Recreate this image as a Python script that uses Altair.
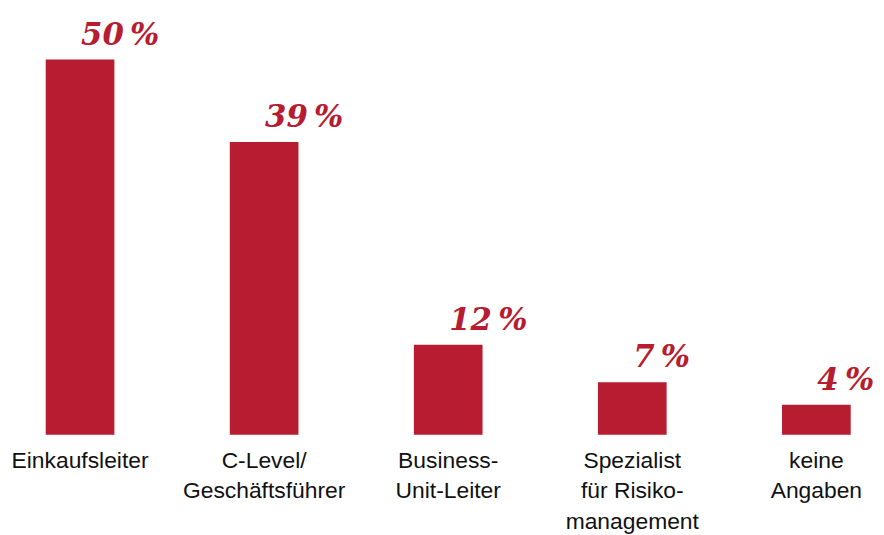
import altair as alt
import pandas as pd

categories = [
    "Einkaufsleiter",
    "C-Level/\nGeschäftsführer",
    "Business-\nUnit-Leiter",
    "Spezialist\nfür Risiko-\nmanagement",
    "keine\nAngaben",
]
values = [50, 39, 12, 7, 4]
value_labels = [f"{v}\u2009%" for v in values]

RED = "#B71C31"

df = pd.DataFrame({"cat": categories, "val": values, "lab": value_labels})

x = alt.X(
    "cat:N",
    sort=None,
    title=None,
    scale=alt.Scale(paddingInner=0.627, paddingOuter=0.155, align=0.661),
    axis=alt.Axis(
        labelExpr="split(datum.label, '\\n')",
        labelAngle=0,
        labelFont="Liberation Sans",
        labelFontSize=23,
        labelColor="#111111",
        labelLineHeight=30.5,
        labelBaseline="alphabetic",
        labelPadding=33,
        labelLimit=400,
        ticks=False,
        tickSize=0,
        domain=False,
        grid=False,
    ),
)
y = alt.Y("val:Q", scale=alt.Scale(domain=[0, 50], nice=False), axis=None)

bars = alt.Chart(df).mark_bar(color=RED).encode(x=x, y=y)

texts = alt.Chart(df).mark_text(
    align="left",
    baseline="alphabetic",
    dx=1,
    dy=-15,
    font="DejaVu Serif",
    fontSize=31,
    fontStyle="italic",
    fontWeight="bold",
    color=RED,
).encode(x=x, y=y, text="lab:N")

chart = (
    alt.layer(bars, texts)
    .properties(
        width=868,
        height=378,
        autosize=alt.AutoSizeParams(type="none"),
        padding={"left": 0, "top": 50, "right": 6, "bottom": 99},
        background="white",
    )
    .configure_view(stroke=None)
)

chart.save("out.html", embed_options={"renderer": "svg", "actions": False})
